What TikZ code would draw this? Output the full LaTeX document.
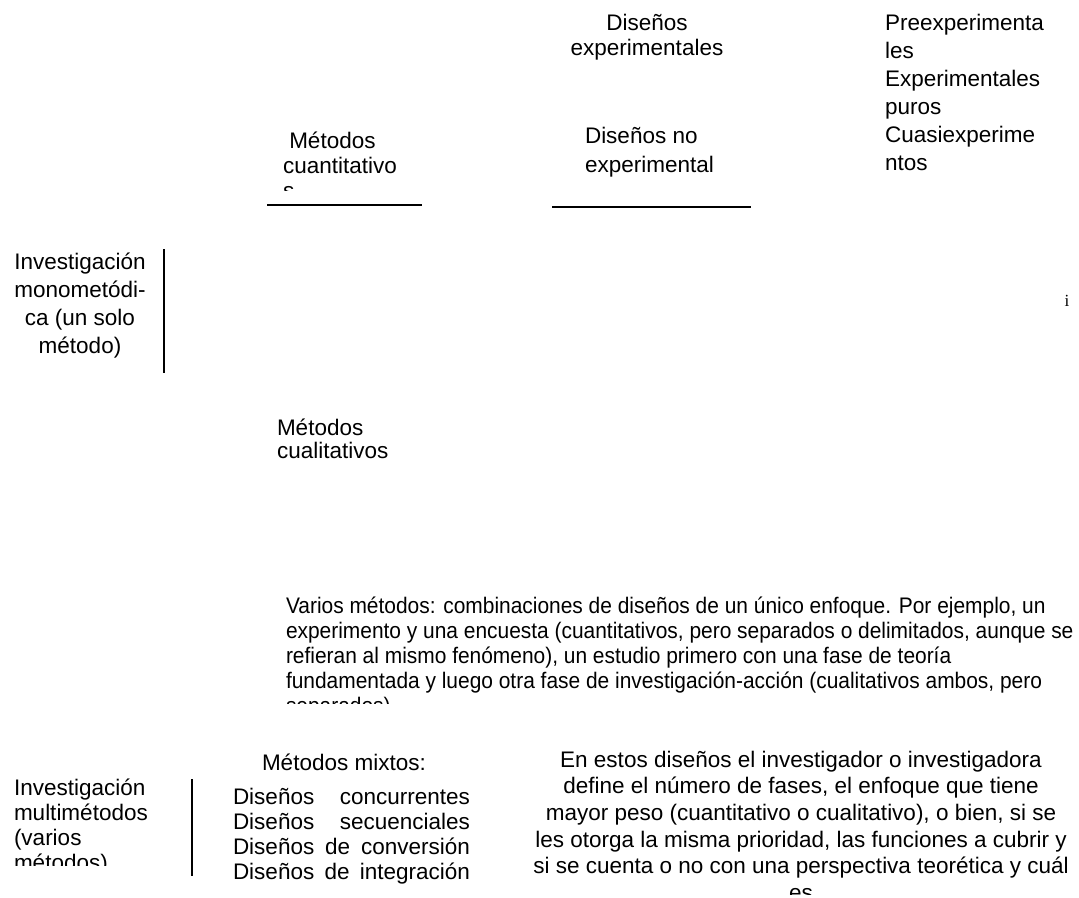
\documentclass[tikz,border=0pt]{standalone}
\usepackage{fontspec}
\setmainfont{Liberation Sans}
\newfontfamily\narrowfont{Liberation Sans}[FakeStretch=0.93]
\newfontfamily\seriffont{Liberation Serif}
\begin{document}
\begin{tikzpicture}[x=1pt,y=-1pt,
  txt/.style={inner sep=0pt, outer sep=0pt, anchor=base west, align=left},
  ctxt/.style={inner sep=0pt, outer sep=0pt, anchor=base, align=center},
  rule/.style={line width=1.3pt, black}]
\useasboundingbox (0,0) rectangle (1079,897);
\fill[white] (0,0) rectangle (1079,897);

% top middle (anchors are at the baseline of the last line)
\node[ctxt, font=\fontsize{22.5}{25}\selectfont] (dexp) at (647,55) {Diseños\\experimentales};
\begin{scope}
  \clip (250,100) rectangle (450,190);
  \node[txt, font=\fontsize{22.5}{25}\selectfont] (mcuan) at (283,198) {\ Métodos\\cuantitativo\\s};
\end{scope}
\coordinate (l1a) at (267,205);
\coordinate (l1b) at (422,205);
\draw[rule] (l1a) -- (l1b);
\node[txt, font=\fontsize{22.5}{29}\selectfont] (dnoexp) at (585,172) {Diseños no\\experimental};
\coordinate (l2a) at (552,207);
\coordinate (l2b) at (751,207);
\draw[rule] (l2a) -- (l2b);

% right column
\node[txt, font=\fontsize{22.5}{28}\selectfont] (tipos) at (885,170) {Preexperimenta\\les\\Experimentales\\puros\\Cuasiexperime\\ntos};

% monometodica
\node[ctxt, font=\fontsize{22.5}{28}\selectfont] (mono) at (80,353) {Investigación\\monometódi-\\ca (un solo\\método)};
\coordinate (v1a) at (164,249);
\coordinate (v1b) at (164,373);
\draw[rule] (v1a) -- (v1b);

\node[inner sep=0pt, anchor=base, font=\seriffont\fontsize{17}{20}\selectfont] (ii) at (1067,306) {i};

\node[txt, font=\fontsize{22.5}{23.5}\selectfont] (mcual) at (277,458.5) {Métodos\\cualitativos};

% varios metodos
\begin{scope}
  \clip (270,580) rectangle (1079,703);
  \node[txt, font=\narrowfont\fontsize{22.5}{25}\selectfont] (varios) at (286,713) {Varios métodos: combinaciones de diseños de un único enfoque. Por ejemplo, un\\experimento y una encuesta (cuantitativos, pero separados o delimitados, aunque se\\refieran al mismo fenómeno), un estudio primero con una fase de teoría\\fundamentada y luego otra fase de investigación-acción (cualitativos ambos, pero\\separados)};
\end{scope}

% multimetodos
\begin{scope}
  \clip (0,760) rectangle (180,865);
  \node[txt, font=\fontsize{22.5}{25}\selectfont] (multi) at (14,870) {Investigación\\multimétodos\\(varios\\métodos)};
\end{scope}
\coordinate (v2a) at (192,779);
\coordinate (v2b) at (192,876);
\draw[rule] (v2a) -- (v2b);

\node[txt, font=\fontsize{22.5}{25}\selectfont] (mixtos) at (262,770) {Métodos mixtos:};
\node[txt, font=\fontsize{22.5}{25}\selectfont] (lista) at (233,879) {\makebox[237pt][s]{Diseños concurrentes}\\\makebox[237pt][s]{Diseños secuenciales}\\\makebox[237pt][s]{Diseños de conversión}\\\makebox[237pt][s]{Diseños de integración}};

\begin{scope}
  \clip (500,740) rectangle (1079,894);
  \node[ctxt, font=\fontsize{22.5}{26.7}\selectfont] (fases) at (801,900.5) {En estos diseños el investigador o investigadora\\define el número de fases, el enfoque que tiene\\mayor peso (cuantitativo o cualitativo), o bien, si se\\les otorga la misma prioridad, las funciones a cubrir y\\si se cuenta o no con una perspectiva teorética y cuál\\es};
\end{scope}
\end{tikzpicture}
\end{document}
